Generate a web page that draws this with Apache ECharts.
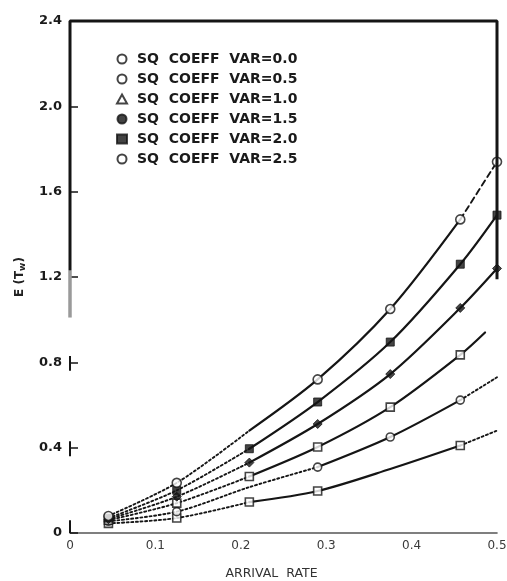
<!DOCTYPE html>
<html>
<head>
<meta charset="utf-8">
<script src="https://cdn.jsdelivr.net/npm/echarts@6/dist/echarts.min.js"></script>
<style>
  html, body { margin: 0; padding: 0; background: #ffffff; }
  #chart { width: 507px; height: 581px; }
</style>
</head>
<body>
<div id="chart"></div>
<script>
// Mean waiting time E(Tw) versus arrival rate, one curve per squared coefficient of variation.
const xTicks = [0, 0.1, 0.2, 0.3, 0.4, 0.5];
const yTicks = [0, 0.4, 0.8, 1.2, 1.6, 2.0, 2.4];

const rateFull = [0.045, 0.125, 0.21, 0.29, 0.375, 0.457, 0.5];
const rateVar10 = [0.045, 0.125, 0.21, 0.29, 0.375, 0.457, 0.486];

const waitVar00 = [0.045, 0.07, 0.145, 0.197, 0.30, 0.41, 0.48];
const waitVar05 = [0.055, 0.10, 0.215, 0.309, 0.45, 0.623, 0.73];
const waitVar10 = [0.06, 0.14, 0.265, 0.403, 0.59, 0.835, 0.94];
const waitVar15 = [0.065, 0.17, 0.33, 0.511, 0.745, 1.055, 1.24];
const waitVar20 = [0.07, 0.20, 0.395, 0.614, 0.895, 1.26, 1.49];
const waitVar25 = [0.08, 0.235, 0.48, 0.72, 1.05, 1.47, 1.74];

const curveNames = [
  'SQ  COEFF  VAR=0.0',
  'SQ  COEFF  VAR=0.5',
  'SQ  COEFF  VAR=1.0',
  'SQ  COEFF  VAR=1.5',
  'SQ  COEFF  VAR=2.0',
  'SQ  COEFF  VAR=2.5'
];

const INK = '#151515';

// drawing style for every curve: which stretch is dotted / solid / dashed, and where markers sit
const curves = [
  { name: curveNames[0], x: rateFull, y: waitVar00, symbol: 'rect', size: 8, open: true, icon: 'circle',
    parts: [[0, 2, 'dot'], [2, 5, 'solid'], [5, 6, 'dot']], marks: [1, 1, 1, 1, 0, 1, 0] },
  { name: curveNames[1], x: rateFull, y: waitVar05, symbol: 'circle', size: 8, open: true, icon: 'circle',
    parts: [[0, 3, 'dot'], [3, 5, 'solid'], [5, 6, 'dot']], marks: [1, 1, 0, 1, 1, 1, 0] },
  { name: curveNames[2], x: rateVar10, y: waitVar10, symbol: 'rect', size: 8, open: true, icon: 'triangle',
    parts: [[0, 2, 'dot'], [2, 6, 'solid']], marks: [1, 1, 1, 1, 1, 1, 0] },
  { name: curveNames[3], x: rateFull, y: waitVar15, symbol: 'diamond', size: 9, open: false, icon: 'circle',
    parts: [[0, 2, 'dot'], [2, 6, 'solid']], marks: [1, 1, 1, 1, 1, 1, 1] },
  { name: curveNames[4], x: rateFull, y: waitVar20, symbol: 'rect', size: 8, open: false, icon: 'rect',
    parts: [[0, 2, 'dot'], [2, 6, 'solid']], marks: [1, 1, 1, 1, 1, 1, 1] },
  { name: curveNames[5], x: rateFull, y: waitVar25, symbol: 'circle', size: 9, open: true, icon: 'circle',
    parts: [[0, 2, 'dot'], [2, 5, 'solid'], [5, 6, 'dash']], marks: [1, 1, 0, 1, 1, 1, 1] }
];

const dashTypes = { dot: [2, 2.6], dash: [6, 4], solid: 'solid' };

const series = [];

curves.forEach(function (c) {
  const pts = c.x.map(function (xv, i) { return [xv, c.y[i]]; });
  c.parts.forEach(function (p) {
    series.push({
      type: 'line',
      name: c.name + ' line',
      data: pts.slice(p[0], p[1] + 1),
      smooth: 0.3,
      showSymbol: false,
      symbol: 'none',
      silent: true,
      z: 3,
      lineStyle: { color: INK, width: p[2] === 'solid' ? 2.2 : 1.9, type: dashTypes[p[2]], cap: 'round' }
    });
  });
  series.push({
    type: 'scatter',
    name: c.name,
    data: pts.filter(function (pt, i) { return c.marks[i]; }),
    symbol: c.symbol,
    symbolSize: c.size,
    z: 5,
    itemStyle: c.open
      ? { color: '#ffffff', borderColor: INK, borderWidth: 1.6 }
      : { color: INK, borderColor: INK, borderWidth: 1 }
  });
});

// heavy frame along the left axis, the top and the right side
series.push({
  type: 'line',
  name: 'frame',
  data: [[0, 1.23], [0, 2.4], [0.5, 2.4], [0.5, 1.19]],
  symbol: 'none',
  silent: true,
  clip: false,
  z: 6,
  lineStyle: { color: INK, width: 3 },
  markLine: {
    silent: true,
    symbol: 'none',
    label: { show: false },
    lineStyle: { type: 'solid', color: '#9a9a9a', width: 3.5 },
    data: [
      [{ coord: [0, 1.01] }, { coord: [0, 1.23] }],
      [{ coord: [0, 0.76], lineStyle: { color: INK, width: 2 } }, { coord: [0, 0.83] }],
      [{ coord: [0, 0.36], lineStyle: { color: INK, width: 2 } }, { coord: [0, 0.43] }],
      [{ coord: [0, 0.0], lineStyle: { color: INK, width: 2 } }, { coord: [0, 0.06] }]
    ]
  }
});

const chart = echarts.init(document.getElementById('chart'), null, { renderer: 'canvas' });

chart.setOption({
  backgroundColor: '#ffffff',
  animation: false,
  grid: { left: 70, right: 10, top: 21, bottom: 48, show: false, containLabel: false, outerBoundsMode: 'none' },
  legend: {
    orient: 'vertical',
    left: 111,
    top: 47,
    itemWidth: 10,
    itemHeight: 9,
    itemGap: 6,
    selectedMode: false,
    data: curves.map(function (c) { return { name: c.name, icon: c.icon }; }),
    textStyle: {
      fontFamily: 'DejaVu Sans',
      fontWeight: 'bold',
      fontSize: 14,
      color: '#1a1a1a',
      padding: [0, 0, 0, 5]
    }
  },
  xAxis: {
    type: 'value',
    min: xTicks[0],
    max: xTicks[xTicks.length - 1],
    interval: 0.1,
    name: 'ARRIVAL  RATE',
    nameLocation: 'middle',
    nameGap: 34,
    nameTextStyle: { fontFamily: 'DejaVu Sans', fontSize: 12.5, color: '#333333', padding: [0, 24, 0, 0] },
    splitLine: { show: false },
    axisTick: { show: false },
    axisLine: { show: true, lineStyle: { color: '#555555', width: 1.6 } },
    axisLabel: {
      margin: 7,
      fontFamily: 'DejaVu Sans',
      fontSize: 12,
      color: '#3a3a3a',
      formatter: function (v) { return v === 0 ? '0' : v.toFixed(1); }
    }
  },
  yAxis: {
    type: 'value',
    min: yTicks[0],
    max: yTicks[yTicks.length - 1],
    interval: 0.4,
    name: 'E (T{sub|w})',
    nameLocation: 'middle',
    nameRotate: 90,
    nameGap: 43,
    nameTextStyle: {
      fontFamily: 'DejaVu Sans',
      fontWeight: 'bold',
      fontSize: 12,
      color: '#222222',
      rich: { sub: { fontFamily: 'DejaVu Sans', fontWeight: 'bold', fontSize: 9, color: '#222222', verticalAlign: 'bottom', padding: [6, 0, 0, 0] } }
    },
    splitLine: { show: false },
    axisLine: { show: false },
    axisTick: { show: true, inside: true, length: 8, lineStyle: { color: INK, width: 1.5 } },
    axisLabel: {
      margin: 8,
      fontFamily: 'DejaVu Sans',
      fontWeight: 'bold',
      fontSize: 13,
      color: '#1a1a1a',
      formatter: function (v) { return v === 0 ? '0' : v.toFixed(1); }
    }
  },
  series: series
});
</script>
</body>
</html>
